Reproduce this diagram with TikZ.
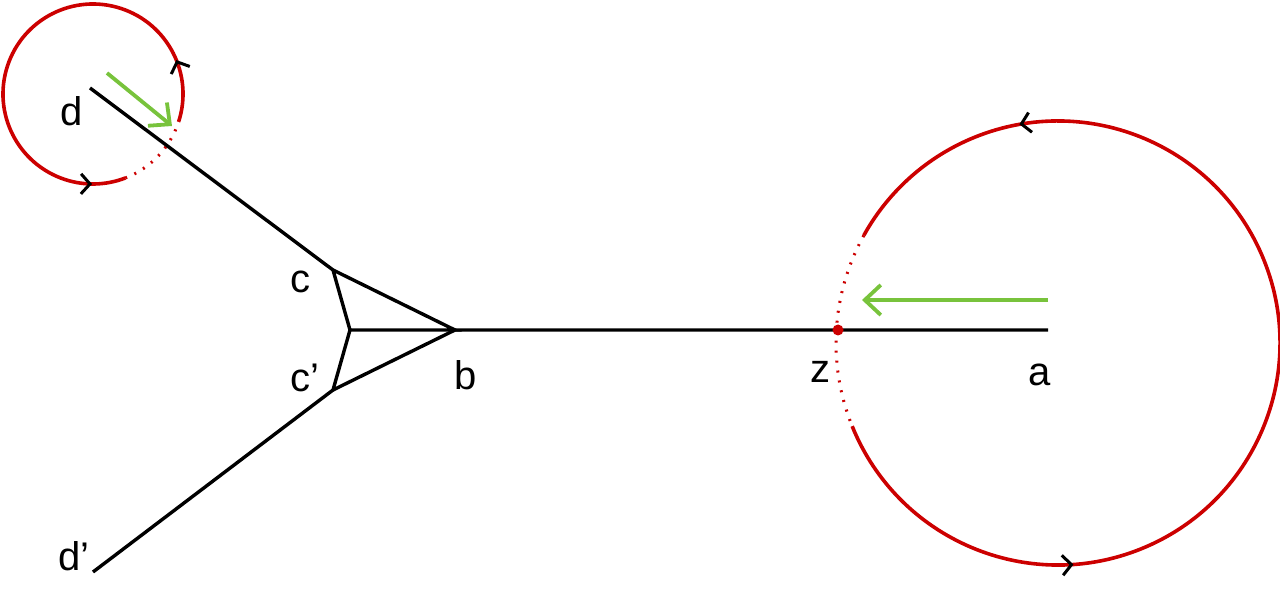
\documentclass[tikz,border=0pt]{standalone}
\usepackage{fontspec}
\setmainfont{Liberation Sans}
\usetikzlibrary{arrows.meta,decorations.markings}
\tikzset{
 edge/.style={black,line width=3.4pt},
 loop/.style={red!80!black,line width=3.6pt},
 dots/.style={red!80!black,line width=3pt,dash pattern=on 2pt off 8pt},
 tip/.style={postaction={decorate,decoration={markings,mark=at position #1 with {\arrow[black,line width=3pt]{Straight Barb[length=9pt,width=20pt]}}}}},
 grn/.style={line width=3.8pt,-{Straight Barb[length=16pt,width=30pt]}},
 lab/.style={font=\fontsize{40}{40}\selectfont,inner sep=0pt}
}
\begin{document}
\begin{tikzpicture}[x=1pt,y=1pt]
\useasboundingbox (0,0) rectangle (1280,603);
\coordinate (s) at (93,509);
\coordinate (g) at (1058,260);
\coordinate (d) at (90,515);
\coordinate (c) at (333,333);
\coordinate (m) at (350,273);
\coordinate (b) at (455,273);
\coordinate (cp) at (333,213);
\coordinate (dp) at (93,31);
\coordinate (a) at (1048,273);
\draw[loop,tip=0.13,tip=0.93] (s) ++(-18:90) arc[start angle=-18,end angle=291,radius=90];
\draw[dots] (s) ++(-69:90) arc[start angle=-69,end angle=-18,radius=90];
\draw[loop,tip=0.233,tip=0.835] (g) ++(202:222) arc[start angle=202,end angle=511,radius=222];
\draw[dots] (g) ++(151:222) arc[start angle=151,end angle=202,radius=222];
\draw[edge] (d)--(c)--(m)--(b)--(c);
\draw[edge] (dp)--(cp)--(m);
\draw[edge] (cp)--(b)--(a);
\fill[red!80!black] (838,273) circle (5.5);
\coordinate (g1) at (107,530); \coordinate (g2) at (172,477);
\coordinate (g3) at (1048,303); \coordinate (g4) at (862,303);
\draw[grn,color={rgb,255:red,120;green,195;blue,60}] (g1)--(g2);
\draw[grn,color={rgb,255:red,120;green,195;blue,60}] (g3)--(g4);
\node[lab] (ld) at (72,492) {d};
\node[lab] (lc) at (300,321) {c};
\node[lab] (lcp) at (305,225) {c’};
\node[lab] (lb) at (466,228) {b};
\node[lab] (lz) at (820,231) {z};
\node[lab] (la) at (1040,228) {a};
\node[lab] (ldp) at (74,47) {d’};
\end{tikzpicture}
\end{document}
